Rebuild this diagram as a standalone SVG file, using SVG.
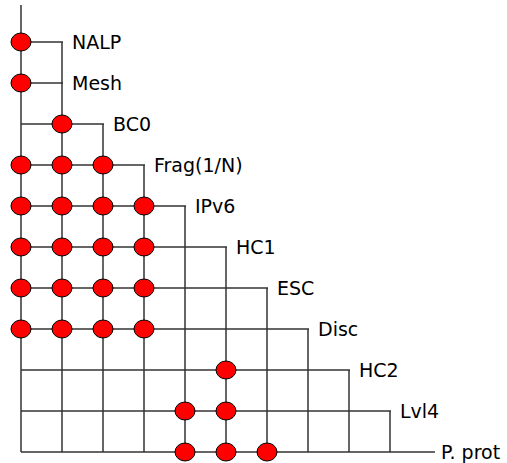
<svg xmlns="http://www.w3.org/2000/svg" width="507" height="463" viewBox="0 0 507 463">
  <style>
    .ln { stroke: #333; stroke-width: 1.5; fill: none; }
    .dot { fill: #f00; stroke: #000; stroke-width: 1; }
    .lbl { font-family: "DejaVu Sans", sans-serif; font-size: 19px; fill: #000; }
  </style>
  <rect width="507" height="463" fill="#fff"/>
  <g id="connectors" class="ln">
    <!-- main trunk -->
    <line x1="21" y1="5" x2="21" y2="452"/>
    <!-- verticals -->
    <line x1="62" y1="42" x2="62" y2="452"/>
    <line x1="103" y1="124" x2="103" y2="452"/>
    <line x1="144" y1="165" x2="144" y2="452"/>
    <line x1="185" y1="206" x2="185" y2="452"/>
    <line x1="226" y1="247" x2="226" y2="452"/>
    <line x1="267" y1="288" x2="267" y2="452"/>
    <line x1="308" y1="329" x2="308" y2="452"/>
    <line x1="349" y1="370" x2="349" y2="452"/>
    <line x1="390" y1="411" x2="390" y2="452"/>
    <!-- horizontals -->
    <line x1="21" y1="42" x2="63" y2="42"/>
    <line x1="21" y1="83" x2="63" y2="83"/>
    <line x1="21" y1="124" x2="104" y2="124"/>
    <line x1="21" y1="165" x2="145" y2="165"/>
    <line x1="21" y1="206" x2="186" y2="206"/>
    <line x1="21" y1="247" x2="227" y2="247"/>
    <line x1="21" y1="288" x2="268" y2="288"/>
    <line x1="21" y1="329" x2="309" y2="329"/>
    <line x1="21" y1="370" x2="350" y2="370"/>
    <line x1="21" y1="411" x2="391" y2="411"/>
    <line x1="21" y1="452" x2="435" y2="452"/>
  </g>
  <g id="labels" class="lbl">
    <text x="72" y="49">NALP</text>
    <text x="72" y="90">Mesh</text>
    <text x="113" y="131">BC0</text>
    <text x="154" y="172">Frag(1/N)</text>
    <text x="195" y="213">IPv6</text>
    <text x="236" y="254">HC1</text>
    <text x="277" y="295">ESC</text>
    <text x="318" y="336">Disc</text>
    <text x="359" y="377">HC2</text>
    <text x="400" y="418">Lvl4</text>
    <text x="441" y="459">P. prot</text>
  </g>
  <g id="nodes" class="dot">
    <g id="n-nalp"><ellipse cx="21" cy="42" rx="10" ry="9"/></g>
    <g id="n-mesh"><ellipse cx="21" cy="83" rx="10" ry="9"/></g>
    <g id="n-bc0"><ellipse cx="62" cy="124" rx="10" ry="9"/></g>
    <g id="n-frag">
      <ellipse cx="21" cy="165" rx="10" ry="9"/>
      <ellipse cx="62" cy="165" rx="10" ry="9"/>
      <ellipse cx="103" cy="165" rx="10" ry="9"/>
    </g>
    <g id="n-ipv6">
      <ellipse cx="21" cy="206" rx="10" ry="9"/>
      <ellipse cx="62" cy="206" rx="10" ry="9"/>
      <ellipse cx="103" cy="206" rx="10" ry="9"/>
      <ellipse cx="144" cy="206" rx="10" ry="9"/>
    </g>
    <g id="n-hc1">
      <ellipse cx="21" cy="247" rx="10" ry="9"/>
      <ellipse cx="62" cy="247" rx="10" ry="9"/>
      <ellipse cx="103" cy="247" rx="10" ry="9"/>
      <ellipse cx="144" cy="247" rx="10" ry="9"/>
    </g>
    <g id="n-esc">
      <ellipse cx="21" cy="288" rx="10" ry="9"/>
      <ellipse cx="62" cy="288" rx="10" ry="9"/>
      <ellipse cx="103" cy="288" rx="10" ry="9"/>
      <ellipse cx="144" cy="288" rx="10" ry="9"/>
    </g>
    <g id="n-disc">
      <ellipse cx="21" cy="329" rx="10" ry="9"/>
      <ellipse cx="62" cy="329" rx="10" ry="9"/>
      <ellipse cx="103" cy="329" rx="10" ry="9"/>
      <ellipse cx="144" cy="329" rx="10" ry="9"/>
    </g>
    <g id="n-hc2"><ellipse cx="226" cy="370" rx="10" ry="9"/></g>
    <g id="n-lvl4">
      <ellipse cx="185" cy="411" rx="10" ry="9"/>
      <ellipse cx="226" cy="411" rx="10" ry="9"/>
    </g>
    <g id="n-pprot">
      <ellipse cx="185" cy="452" rx="10" ry="9"/>
      <ellipse cx="226" cy="452" rx="10" ry="9"/>
      <ellipse cx="267" cy="452" rx="10" ry="9"/>
    </g>
  </g>
</svg>
